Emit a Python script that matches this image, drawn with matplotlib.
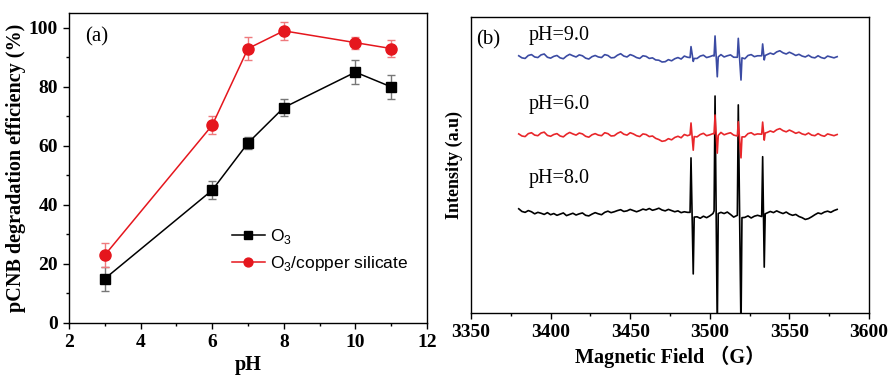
import numpy as np
import matplotlib
matplotlib.use("Agg")
import matplotlib.pyplot as plt
from matplotlib.ticker import MultipleLocator

# ---- panel (a): pCNB degradation vs pH ----
ph = [3, 6, 7, 8, 10, 11]
o3_eff = [15, 45, 61, 73, 85, 80]
o3_err = [4, 3, 2, 3, 4, 4]
cu_eff = [23, 67, 93, 99, 95, 93]
cu_err = [4, 3, 4, 3, 2, 3]

# ---- panel (b): EPR spectra (arbitrary intensity) ----
base_field = [3380, 3382, 3384, 3386, 3388, 3390, 3392, 3394, 3396, 3398,
              3400, 3402, 3404, 3406, 3408, 3410, 3412, 3414, 3416, 3418,
              3420, 3422, 3424, 3426, 3428, 3430, 3432, 3434, 3436, 3438,
              3440, 3442, 3444, 3446, 3448, 3450, 3452, 3454, 3456, 3458,
              3460, 3462, 3464, 3466, 3468, 3470, 3472, 3474, 3476, 3478,
              3480, 3482, 3484, 3486,
              3492, 3494, 3496, 3498, 3500, 3502,
              3507, 3509, 3511, 3513, 3515,
              3522, 3524, 3526, 3528, 3530,
              3536, 3538, 3540, 3542, 3544, 3546, 3548, 3550, 3552, 3554,
              3556, 3558, 3560, 3562, 3564, 3566, 3568, 3570, 3572, 3574,
              3576, 3578, 3580]
blue_base = [86.9, 86.2, 86.0, 87.0, 87.3, 86.5, 86.3, 87.2, 87.5, 86.4,
             86.1, 86.7, 87.0, 86.2, 85.9, 86.8, 87.4, 86.9, 86.5, 87.2,
             86.9, 86.1, 85.8, 86.6, 87.0, 86.5, 86.3, 87.3, 87.0, 86.2,
             86.3, 87.1, 87.6, 86.8, 86.5, 87.3, 86.9, 86.3, 86.0, 86.9,
             86.7, 86.0, 86.2, 85.5, 85.4, 84.8, 84.9, 85.6, 85.2, 85.9,
             86.3, 85.8, 86.8, 86.4,
             86.0, 86.8, 87.1, 86.3, 86.6, 87.0,
             87.3, 86.5, 86.9, 87.2, 86.4,
             85.9, 87.0, 87.3, 86.6, 86.9,
             87.3, 87.8, 87.4, 88.2, 88.6, 87.9, 87.5, 88.1, 87.6, 87.0,
             87.4, 86.8, 86.5, 87.1, 86.4, 86.2, 86.9, 86.3, 86.0, 86.8,
             86.5, 86.2, 86.6]
red_base = [60.5, 59.8, 59.6, 60.6, 60.9, 60.1, 59.9, 60.8, 61.1, 60.0,
            59.7, 60.3, 60.6, 59.8, 59.5, 60.4, 61.0, 60.5, 60.1, 60.8,
            60.5, 59.7, 59.4, 60.2, 60.6, 60.1, 59.9, 60.9, 60.6, 59.8,
            59.9, 60.7, 61.2, 60.4, 60.1, 60.9, 60.5, 59.9, 59.6, 60.5,
            60.3, 59.6, 59.8, 59.0, 58.6, 58.0, 58.2, 58.9, 58.5, 59.3,
            59.7, 59.2, 60.3, 59.9,
            59.5, 60.3, 60.7, 59.9, 60.2, 60.6,
            61.0, 60.2, 60.6, 60.9, 60.1,
            59.5, 60.6, 60.9, 60.2, 60.5,
            61.0, 61.5, 61.1, 61.9, 62.3, 61.6, 61.2, 61.8, 61.3, 60.7,
            61.1, 60.5, 60.2, 60.8, 60.1, 59.9, 60.6, 60.0, 59.7, 60.5,
            60.2, 59.9, 60.3]
black_base = [35.2, 34.3, 34.0, 34.6, 34.2, 33.5, 34.0, 33.7, 33.3, 33.9,
              33.2, 33.6, 33.0, 33.4, 33.8, 32.9, 33.3, 33.7, 33.1, 33.5,
              33.8, 33.0, 32.8, 33.4, 33.9, 33.5, 33.2, 34.0, 34.4, 33.9,
              34.2, 34.6, 34.9, 34.3, 34.5, 35.0, 34.6, 34.2, 34.6, 35.1,
              34.8, 35.3, 34.7, 35.0, 35.4, 34.8, 34.5, 35.0, 34.6, 34.2,
              34.5, 33.9, 34.2, 34.0,
              32.5, 32.0, 32.7, 32.2, 32.8, 33.6,
              34.0, 33.6, 34.1, 33.3, 32.4,
              32.3, 32.8, 32.1, 32.7, 33.0,
              33.8, 34.3, 33.9, 34.5, 34.0, 33.6, 34.1, 33.4, 33.0, 33.3,
              32.6, 32.2, 31.6, 31.9, 32.5, 33.2, 33.8, 33.5, 34.1, 34.4,
              34.0, 34.6, 35.0]

peak_field = [3487.6, 3488.2, 3489.6, 3490.2,
              3502.7, 3503.3, 3504.7, 3505.3,
              3517.3, 3517.9, 3519.6, 3520.2,
              3532.6, 3533.2, 3534.2, 3534.8]
blue_peak = [86.3, 90.0, 85.0, 86.0, 86.8, 93.6, 79.8, 86.5,
             86.4, 92.8, 78.7, 86.2, 86.9, 90.9, 85.5, 87.0]
red_peak = [60.2, 64.2, 55.0, 59.6, 60.5, 66.9, 54.0, 60.0,
            59.8, 64.6, 52.4, 59.5, 60.4, 64.5, 58.4, 60.8]
black_peak = [34.0, 52.4, 13.2, 32.4, 34.5, 73.3, -6.0, 33.6,
              33.0, 70.3, -6.0, 32.2, 32.6, 52.8, 15.5, 33.5]

spec_labels = ["pH=9.0", "pH=6.0", "pH=8.0"]
spec_label_y = [93.6, 70.6, 45.6]

SERIF = "Liberation Serif"
SANS = "Liberation Sans"

plt.rcParams["font.family"] = SERIF
plt.rcParams["font.weight"] = "bold"
plt.rcParams["axes.labelweight"] = "bold"


def spectrum(base, peak):
    x = np.array(base_field + peak_field, dtype=float)
    y = np.array(base + peak, dtype=float)
    order = np.argsort(x)
    return x[order], y[order]


def style_ticks(ax, size):
    ax.tick_params(which="both", direction="out", width=1, labelsize=size,
                   pad=4)
    ax.tick_params(which="major", length=4)
    ax.tick_params(which="minor", length=2.5)
    for sp in ax.spines.values():
        sp.set_linewidth(1.0)


fig = plt.figure(figsize=(8.9, 3.83), dpi=100)

# ---------------- (a) ----------------
ax1 = fig.add_axes([0.0775, 0.1567, 0.4023, 0.809])
ax1.errorbar(ph, o3_eff, yerr=o3_err, fmt="none", ecolor="#777777",
             elinewidth=1, capsize=3)
ax1.errorbar(ph, cu_eff, yerr=cu_err, fmt="none", ecolor="#ef7a7d",
             elinewidth=1, capsize=3)
ax1.plot(ph, o3_eff, color="black", marker="s", ms=7, lw=1.1,
         label=r"O$_\mathregular{3}$")
ax1.plot(ph, cu_eff, color="#e5161d", marker="o", ms=8, lw=1.1,
         label=r"O$_\mathregular{3}$/copper silicate")
ax1.set_xlim(2, 12)
ax1.set_ylim(0, 105)
ax1.xaxis.set_major_locator(MultipleLocator(2))
ax1.xaxis.set_minor_locator(MultipleLocator(1))
ax1.yaxis.set_major_locator(MultipleLocator(20))
ax1.yaxis.set_minor_locator(MultipleLocator(10))
style_ticks(ax1, 14)
ax1.set_xlabel("pH", fontsize=14.5, labelpad=3)
ax1.set_ylabel("pCNB degradation efficiency (%)", fontsize=14.5, labelpad=2)
ax1.text(0.045, 0.955, "(a)", transform=ax1.transAxes, fontsize=15,
         weight="normal", va="top", ha="left")
ax1.legend(loc="upper left", bbox_to_anchor=(0.455, 0.31), frameon=False,
           prop={"family": SANS, "size": 12.5, "weight": "normal"},
           handlelength=1.9, handletextpad=0.3, labelspacing=0.45,
           borderpad=0, borderaxespad=0, markerscale=0.8)

# ---------------- (b) ----------------
ax2 = fig.add_axes([0.5292, 0.1828, 0.4472, 0.7728])
xb, yb = spectrum(black_base, black_peak)
xr, yr = spectrum(red_base, red_peak)
xu, yu = spectrum(blue_base, blue_peak)
ax2.plot(xb, yb, color="black", lw=1.2)
ax2.plot(xr, yr, color="#e8262a", lw=1.2)
ax2.plot(xu, yu, color="#3b4ba3", lw=1.2)
ax2.set_xlim(3350, 3600)
ax2.set_ylim(0, 100)
ax2.set_yticks([])
ax2.xaxis.set_major_locator(MultipleLocator(50))
ax2.xaxis.set_minor_locator(MultipleLocator(25))
style_ticks(ax2, 14)
ax2.set_xlabel("Magnetic Field （G）", family=[SERIF, "Noto Sans CJK SC"],
               fontsize=14.5, labelpad=3)
ax2.set_ylabel("Intensity (a.u)", fontsize=13, labelpad=6)
ax2.text(0.012, 0.955, "(b)", transform=ax2.transAxes, fontsize=15,
         weight="normal", va="top", ha="left")
for lab, ly in zip(spec_labels, spec_label_y):
    ax2.text(3386, ly, lab, fontsize=14.5, weight="normal", va="center",
             ha="left")

fig.savefig("out.png", dpi=100)
